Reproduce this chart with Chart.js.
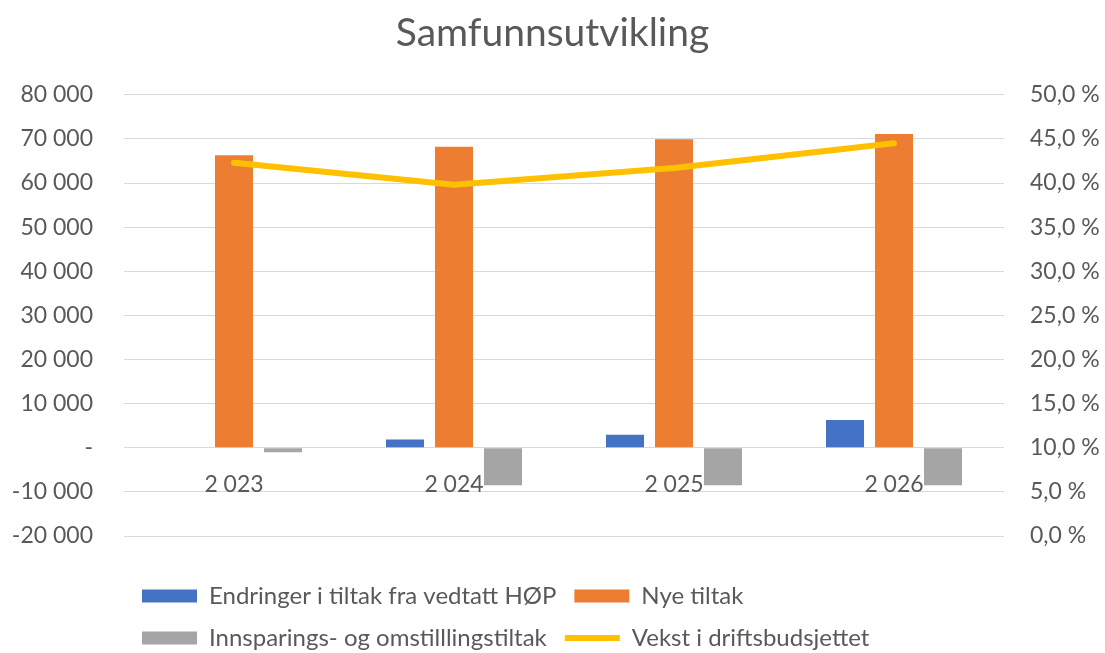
<!DOCTYPE html>
<html>
<head>
<meta charset="utf-8">
<script src="https://cdn.jsdelivr.net/npm/chart.js@4"></script>
<style>
  html, body { margin: 0; padding: 0; background: #ffffff; }
  #wrap { width: 1105px; height: 653px; position: relative; }
</style>
</head>
<body>
<div id="wrap"><canvas id="c"></canvas></div>
<script>
const title = 'Samfunnsutvikling';
const categories = [2023, 2024, 2025, 2026];
const seriesNames = ['Endringer i tiltak fra vedtatt HØP', 'Nye tiltak', 'Innsparings- og omstilllingstiltak', 'Vekst i driftsbudsjettet'];
const endringer = [0, 1900, 2950, 6300];
const nyeTiltak = [66300, 68200, 69900, 71100];
const innsparing = [-1000, -8500, -8500, -8500];
const vekstProsent = [42.3, 39.8, 41.7, 44.5];
const leftTicks = { min: -20000, max: 80000, step: 10000 };
const rightTicks = { min: 0, max: 50, step: 5 };

const FONT = 'Lato, "Open Sans", sans-serif';
const GREY_TEXT = '#595959';
const fmtThousands = v => {
  const s = Math.abs(Math.round(v)).toString().replace(/\B(?=(\d{3})+(?!\d))/g, ' ');
  return (v < 0 ? '-' : '') + s;
};

new Chart(document.getElementById('c'), {
  type: 'bar',
  data: {
    labels: categories,
    datasets: [
      { label: seriesNames[0], data: endringer, backgroundColor: '#4472C4', yAxisID: 'y', order: 1, pointStyle: 'rect' },
      { label: seriesNames[1], data: nyeTiltak, backgroundColor: '#ED7D31', yAxisID: 'y', order: 1, pointStyle: 'rect' },
      { label: seriesNames[2], data: innsparing, backgroundColor: '#A5A5A5', yAxisID: 'y', order: 1, pointStyle: 'rect' },
      { type: 'line', label: seriesNames[3], data: vekstProsent, yAxisID: 'y1', order: 0,
        borderColor: '#FFC000', backgroundColor: '#FFC000', borderWidth: 6,
        borderCapStyle: 'round', borderJoinStyle: 'round', pointRadius: 0, pointHoverRadius: 0,
        pointStyle: 'line', tension: 0 }
    ]
  },
  options: {
    responsive: true,
    maintainAspectRatio: false,
    animation: false,
    datasets: { bar: { categoryPercentage: 0.668, barPercentage: 0.776 } },
    layout: { padding: { left: 0, right: 0, top: 0, bottom: -7 } },
    plugins: {
      title: {
        display: true, text: title, color: GREY_TEXT,
        font: { family: FONT, size: 39, weight: 'normal', lineHeight: 1.2 },
        padding: { top: 10, bottom: 38 }
      },
      legend: {
        display: true, position: 'bottom', align: 'start', fullSize: false,
        title: { display: true, text: '', font: { size: 10, lineHeight: 1 }, padding: { top: 10, bottom: 10 } },
        labels: {
          usePointStyle: true, pointStyleWidth: 55, boxWidth: 55, boxHeight: 13,
          padding: 18, color: GREY_TEXT,
          font: { family: FONT, size: 24 },
          sort: (a, b) => a.datasetIndex - b.datasetIndex
        }
      },
      tooltip: { enabled: false }
    },
    scales: {
      x: {
        type: 'category',
        position: { y: 0 },
        grid: { display: false, drawTicks: false },
        border: { display: false },
        ticks: { color: GREY_TEXT, font: { family: FONT, size: 23 }, padding: 23,
          callback: function (v, i) { return fmtThousands(categories[i]); } }
      },
      y: {
        position: 'left',
        min: leftTicks.min, max: leftTicks.max,
        afterFit: s => { s.width = 124; },
        grid: { color: '#D9D9D9', lineWidth: 1, drawTicks: false },
        border: { display: false },
        ticks: { stepSize: leftTicks.step, color: GREY_TEXT, font: { family: FONT, size: 23 }, padding: 31,
          callback: v => v === 0 ? '-' : fmtThousands(v) }
      },
      y1: {
        position: 'right',
        min: rightTicks.min, max: rightTicks.max,
        afterFit: s => { s.width = 101; },
        grid: { display: false, drawTicks: false },
        border: { display: false },
        ticks: { stepSize: rightTicks.step, color: GREY_TEXT, font: { family: FONT, size: 23 }, padding: 26,
          callback: v => v.toFixed(1).replace('.', ',') + ' %' }
      }
    }
  }
});
</script>
</body>
</html>
